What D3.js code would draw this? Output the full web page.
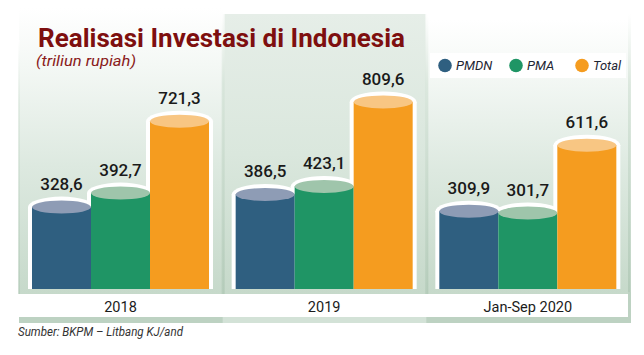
<!DOCTYPE html>
<html>
<head>
<meta charset="utf-8">
<script src="https://cdn.jsdelivr.net/npm/d3@7"></script>
<style>
html,body{margin:0;padding:0;background:#fff;}
svg{display:block;}
</style>
</head>
<body>
<svg id="chart" width="644" height="355"></svg>
<script>
const categories = ["2018", "2019", "Jan-Sep 2020"];
const seriesNames = ["PMDN", "PMA", "Total"];
const pmdnValues = [328.6, 386.5, 309.9];
const pmaValues = [392.7, 423.1, 301.7];
const totalValues = [721.3, 809.6, 611.6];
const titleText = "Realisasi Investasi di Indonesia";
const subtitleText = "(triliun rupiah)";
const sourceText = "Sumber: BKPM \u2013 Litbang KJ/and";

const seriesColors = {PMDN: "#2f5f80", PMA: "#1f9565", Total: "#f59c1f"};
const capColors = {PMDN: "#8e9cb5", PMA: "#9fc5ab", Total: "#f8c683"};

const svg = d3.select("#chart");
const W = 644, H = 355;
svg.append("rect").attr("width", W).attr("height", H).attr("fill", "#fff");

const defs = svg.append("defs");
function grad(id, stops) {
  const g = defs.append("linearGradient").attr("id", id)
    .attr("x1", 0).attr("y1", 0).attr("x2", 0).attr("y2", 1);
  stops.forEach(s => g.append("stop").attr("offset", s[0]).attr("stop-color", s[1]));
}
grad("panelA", [[0, "#ffffff"], [0.2, "#f4f8f5"], [0.55, "#dde9e0"], [1, "#c6d9ca"]]);
grad("panelB", [[0, "#e6eee8"], [0.5, "#dae7dd"], [1, "#c6d9ca"]]);
grad("edge", [[0, "#ffffff"], [0.25, "#d6e4d9"], [1, "#afc8b5"]]);

const fmtLocale = d3.formatLocale({decimal: ",", thousands: ".", grouping: [3], currency: ["", ""]});
const fmt = fmtLocale.format(".1f");

const x0 = d3.scaleBand().domain(categories).range([19, 630]).paddingInner(0);
const x1 = d3.scaleBand().domain(seriesNames).range([13, 190]);
const y = d3.scaleLinear().domain([0, 800]).range([279, 104]);
const base = 289;

const data = categories.map((c, i) => ({
  cat: c,
  bars: [
    {s: "PMDN", v: pmdnValues[i]},
    {s: "PMA", v: pmaValues[i]},
    {s: "Total", v: totalValues[i]}
  ]
}));

// panels
const panelTop = [8, 14, 20];
data.forEach((d, i) => {
  const px = x0(d.cat), pw = x0.bandwidth();
  svg.append("rect").attr("x", px).attr("y", panelTop[i]).attr("width", pw)
    .attr("height", 294 - panelTop[i]).attr("fill", i === 1 ? "url(#panelB)" : "url(#panelA)");
});
// panel edge shadows
[x0(categories[1]) - 1, x0(categories[2]) - 1, 628].forEach(ex => {
  svg.append("rect").attr("x", ex).attr("y", 14).attr("width", 3).attr("height", 280)
    .attr("fill", "url(#edge)").attr("opacity", 0.8);
});
svg.append("rect").attr("x", 18).attr("y", 40).attr("width", 2).attr("height", 254)
  .attr("fill", "url(#edge)").attr("opacity", 0.6);

// label bands
svg.append("rect").attr("x", 19).attr("y", 317).attr("width", 612).attr("height", 6).attr("fill", "#bdd2c2");
svg.append("rect").attr("x", x0(categories[1])).attr("y", 317).attr("width", x0.bandwidth()).attr("height", 6).attr("fill", "#d3e2d7");
svg.append("rect").attr("x", 628).attr("y", 292).attr("width", 3).attr("height", 31).attr("fill", "#bdd2c2");
data.forEach((d, i) => {
  const px = x0(d.cat), pw = x0.bandwidth();
  svg.append("rect").attr("x", px).attr("y", 294).attr("width", i === 2 ? pw - 2 : pw)
    .attr("height", 23).attr("fill", "#ffffff");
  svg.append("text").attr("x", px + x1.range()[0] + (x1.range()[1] - x1.range()[0]) / 2)
    .attr("y", 312).attr("text-anchor", "middle")
    .attr("font-family", "Roboto, 'Noto Sans', sans-serif").attr("font-size", 14.5)
    .attr("fill", "#1b1b1b").text(d.cat);
});

// bars
const ry = 6.5, pad = 4;
const groups = svg.selectAll("g.cat").data(data).join("g").attr("class", "cat")
  .attr("transform", d => `translate(${x0(d.cat)},0)`);

// white outlines
groups.each(function(d) {
  const g = d3.select(this);
  d.bars.forEach(b => {
    const bx = x1(b.s), bw = x1.bandwidth(), top = y(b.v);
    g.append("rect").attr("x", bx - pad).attr("y", top).attr("width", bw + 2 * pad)
      .attr("height", base - top).attr("fill", "#fff");
    g.append("ellipse").attr("cx", bx + bw / 2).attr("cy", top).attr("rx", bw / 2 + pad)
      .attr("ry", ry + pad).attr("fill", "#fff");
  });
});
// bars & caps
groups.each(function(d) {
  const g = d3.select(this);
  d.bars.forEach(b => {
    const bx = x1(b.s), bw = x1.bandwidth(), top = y(b.v);
    g.append("rect").attr("x", bx).attr("y", top).attr("width", bw)
      .attr("height", base - top).attr("fill", seriesColors[b.s]);
    g.append("ellipse").attr("cx", bx + bw / 2).attr("cy", top).attr("rx", bw / 2)
      .attr("ry", ry).attr("fill", capColors[b.s]);
  });
});
// value labels
groups.each(function(d) {
  const g = d3.select(this);
  d.bars.forEach(b => {
    const bx = x1(b.s), bw = x1.bandwidth(), top = y(b.v);
    g.append("text").attr("x", bx + bw / 2).attr("y", top - 17)
      .attr("text-anchor", "middle")
      .attr("font-family", "Roboto, 'Noto Sans', sans-serif").attr("font-weight", 500)
      .attr("font-size", 17).attr("fill", "#1a1a1a").text(fmt(b.v));
  });
});

// title
svg.append("text").attr("x", 38).attr("y", 47)
  .attr("font-family", "Roboto, 'Noto Sans', sans-serif").attr("font-weight", 700)
  .attr("font-size", 25).attr("fill", "#7e0f0f")
  .attr("textLength", 367).attr("lengthAdjust", "spacingAndGlyphs").text(titleText);
svg.append("text").attr("x", 36).attr("y", 66)
  .attr("font-family", "Roboto, 'Noto Sans', sans-serif").attr("font-style", "italic")
  .attr("font-size", 15).attr("fill", "#8a1a1a")
  .attr("textLength", 100).attr("lengthAdjust", "spacingAndGlyphs").text(subtitleText);

// legend
svg.append("rect").attr("x", 430).attr("y", 53).attr("width", 196).attr("height", 25).attr("fill", "#fff");
const legX = [445, 516, 582];
seriesNames.forEach((s, i) => {
  svg.append("circle").attr("cx", legX[i]).attr("cy", 65.5).attr("r", 6.8).attr("fill", seriesColors[s]);
  svg.append("text").attr("x", legX[i] + 11).attr("y", 70)
    .attr("font-family", "Roboto, 'Noto Sans', sans-serif").attr("font-style", "italic")
    .attr("font-size", 13).attr("fill", "#1e2633").text(s);
});

// source
svg.append("text").attr("x", 18).attr("y", 336)
  .attr("font-family", "Roboto, 'Noto Sans', sans-serif").attr("font-style", "italic")
  .attr("font-size", 12.5).attr("fill", "#333")
  .attr("textLength", 165).attr("lengthAdjust", "spacingAndGlyphs").text(sourceText);
</script>
</body>
</html>
